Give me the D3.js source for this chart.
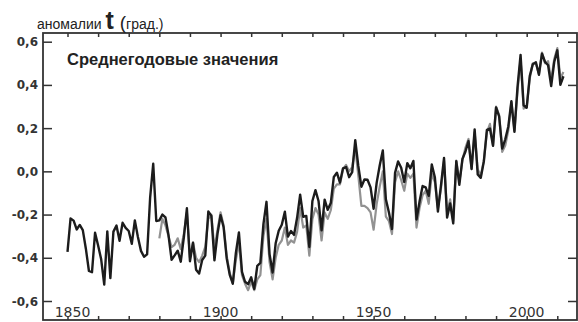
<!DOCTYPE html>
<html>
<head>
<meta charset="utf-8">
<script src="https://cdn.jsdelivr.net/npm/d3@7"></script>
<style>
  html, body { margin: 0; padding: 0; background: #fff; }
  svg { display: block; }
</style>
</head>
<body>
<svg id="chart" width="578" height="322"></svg>
<script>
// Annual mean global temperature anomalies, °C
const startYear = 1850;
const blackValues = [
  -0.373, -0.218, -0.228, -0.269, -0.248, -0.272, -0.358, -0.461, -0.467, -0.284,
  -0.343, -0.407, -0.524, -0.278, -0.494, -0.279, -0.251, -0.321, -0.238, -0.262,
  -0.276, -0.335, -0.227, -0.304, -0.368, -0.395, -0.384, -0.120, 0.035, -0.230,
  -0.227, -0.200, -0.213, -0.296, -0.409, -0.389, -0.367, -0.418, -0.307, -0.171,
  -0.416, -0.330, -0.455, -0.473, -0.410, -0.390, -0.186, -0.206, -0.412, -0.289,
  -0.203, -0.259, -0.402, -0.479, -0.520, -0.377, -0.283, -0.465, -0.511, -0.522,
  -0.490, -0.544, -0.437, -0.424, -0.244, -0.141, -0.383, -0.468, -0.333, -0.275,
  -0.247, -0.187, -0.302, -0.276, -0.294, -0.215, -0.108, -0.210, -0.206, -0.350,
  -0.137, -0.087, -0.137, -0.273, -0.131, -0.178, -0.147, -0.026, -0.006, -0.052,
  0.014, 0.020, -0.027, -0.004, 0.144, 0.025, -0.071, -0.038, -0.039, -0.074,
  -0.173, -0.052, 0.028, 0.097, -0.129, -0.190, -0.267, -0.007, 0.046, 0.017,
  -0.049, 0.038, 0.014, 0.048, -0.223, -0.140, -0.068, -0.074, -0.113, 0.032,
  -0.027, -0.186, -0.065, 0.062, -0.214, -0.149, -0.241, 0.047, -0.062, 0.057,
  0.092, 0.140, 0.011, 0.194, -0.014, -0.030, 0.045, 0.192, 0.198, 0.118,
  0.296, 0.254, 0.105, 0.148, 0.208, 0.325, 0.183, 0.390, 0.539, 0.306,
  0.294, 0.441, 0.496, 0.505, 0.447, 0.545, 0.506, 0.491, 0.395, 0.506,
  0.560, 0.400, 0.440
];

const grayStartYear = 1880;
const grayValues = [
  -0.31, -0.22, -0.25, -0.30, -0.35, -0.34, -0.31, -0.36, -0.29, -0.19,
  -0.40, -0.33, -0.40, -0.42, -0.39, -0.35, -0.22, -0.20, -0.36, -0.27,
  -0.19, -0.25, -0.39, -0.47, -0.52, -0.41, -0.33, -0.48, -0.52, -0.55,
  -0.51, -0.55, -0.50, -0.48, -0.30, -0.22, -0.42, -0.50, -0.40, -0.34,
  -0.32, -0.26, -0.34, -0.32, -0.33, -0.28, -0.17, -0.26, -0.25, -0.39,
  -0.22, -0.17, -0.20, -0.32, -0.19, -0.22, -0.18, -0.08, -0.06, -0.06,
  0.01, 0.03, 0.00, 0.02, 0.11, -0.02, -0.16, -0.16, -0.17, -0.19,
  -0.27, -0.15, -0.07, 0.00, -0.21, -0.23, -0.29, -0.05, 0.00, -0.04,
  -0.09, -0.01, -0.03, -0.01, -0.26, -0.17, -0.11, -0.09, -0.15, -0.01,
  -0.05, -0.17, -0.08, 0.05, -0.19, -0.13, -0.23, 0.05, -0.05, 0.05,
  0.11, 0.15, 0.01, 0.18, 0.01, -0.02, 0.05, 0.18, 0.22, 0.12,
  0.30, 0.26, 0.09, 0.12, 0.19, 0.32, 0.19, 0.37, 0.52, 0.29,
  0.30, 0.43, 0.50, 0.50, 0.45, 0.55, 0.50, 0.51, 0.42, 0.52,
  0.57, 0.43, 0.46
];

const yTicks = [-0.6, -0.4, -0.2, 0.0, 0.2, 0.4, 0.6];
const xLabelYears = [1850, 1900, 1950, 2000];
const xTickYears = d3.range(1850, 2011, 10);

const blackSeries = blackValues.map((v, i) => ({ year: startYear + i, value: v }));
const graySeries = grayValues.map((v, i) => ({ year: grayStartYear + i, value: v }));

const svg = d3.select("#chart");

// plot frame
const frame = { left: 43, top: 33, right: 577, bottom: 320 };

const x = d3.scaleLinear().domain([1850, 2010]).range([67.5, 557.3]);
const y = d3.scaleLinear().domain([-0.6, 0.6]).range([301, 41.7]);

const fmt = v => d3.format(".1f")(v).replace(".", ",").replace("\u2212", "-");

// left axis: ticks point inward
svg.append("g")
  .attr("transform", `translate(${frame.left},0)`)
  .call(d3.axisRight(y).tickValues(yTicks).tickSize(9).tickFormat(""))
  .call(g => g.select(".domain").remove())
  .call(g => g.selectAll("line").attr("stroke", "#333").attr("stroke-width", 1.5));

// right axis: ticks point inward
svg.append("g")
  .attr("transform", `translate(${frame.right},0)`)
  .call(d3.axisLeft(y).tickValues(yTicks).tickSize(9).tickFormat(""))
  .call(g => g.select(".domain").remove())
  .call(g => g.selectAll("line").attr("stroke", "#333").attr("stroke-width", 1.5));

// bottom and top ticks every 10 years
svg.append("g")
  .attr("transform", `translate(0,${frame.bottom})`)
  .call(d3.axisTop(x).tickValues(xTickYears).tickSize(4).tickFormat(""))
  .call(g => g.select(".domain").remove())
  .call(g => g.selectAll("line").attr("stroke", "#333").attr("stroke-width", 1.5));

svg.append("g")
  .attr("transform", `translate(0,${frame.top})`)
  .call(d3.axisBottom(x).tickValues(xTickYears).tickSize(4).tickFormat(""))
  .call(g => g.select(".domain").remove())
  .call(g => g.selectAll("line").attr("stroke", "#333").attr("stroke-width", 1.5));

// y tick labels
svg.append("g")
  .selectAll("text")
  .data(yTicks)
  .join("text")
  .attr("x", 38)
  .attr("y", d => y(d) + 4.5)
  .attr("text-anchor", "end")
  .attr("font-family", "DejaVu Sans, sans-serif")
  .attr("font-weight", "bold")
  .attr("font-size", 12)
  .attr("fill", "#333")
  .text(d => fmt(d));

// year labels inside the frame
svg.append("g")
  .selectAll("text")
  .data(xLabelYears)
  .join("text")
  .attr("x", (d, i) => x(d) + (i === 0 ? 5 : 0))
  .attr("y", 317)
  .attr("text-anchor", "middle")
  .attr("font-family", "DejaVu Sans, sans-serif")
  .attr("font-size", 14)
  .attr("fill", "#333")
  .text(d => d);

// data lines
const line = d3.line().x(d => x(d.year)).y(d => y(d.value));

svg.append("path")
  .datum(graySeries)
  .attr("fill", "none")
  .attr("stroke", "#929292")
  .attr("stroke-width", 2.2)
  .attr("stroke-linejoin", "round")
  .attr("d", line);

svg.append("path")
  .datum(blackSeries)
  .attr("fill", "none")
  .attr("stroke", "#1c1c1c")
  .attr("stroke-width", 2.4)
  .attr("stroke-linejoin", "round")
  .attr("d", line);

// frame
svg.append("rect")
  .attr("x", frame.left)
  .attr("y", frame.top)
  .attr("width", frame.right - frame.left)
  .attr("height", frame.bottom - frame.top)
  .attr("fill", "none")
  .attr("stroke", "#333")
  .attr("stroke-width", 1.8);

// axis title
const title = svg.append("text")
  .attr("x", 37)
  .attr("y", 29)
  .attr("font-family", "Liberation Sans, Arial, sans-serif")
  .attr("fill", "#222");
title.append("tspan").attr("font-size", 14).text("аномалии ");
title.append("tspan").attr("font-size", 25).attr("font-weight", "bold").text("t");
title.append("tspan").attr("font-size", 19).attr("dx", 6).text("(");
title.append("tspan").attr("font-size", 14).text("град.)");

// panel label
svg.append("text")
  .attr("x", 67)
  .attr("y", 65)
  .attr("font-family", "Liberation Sans, Arial, sans-serif")
  .attr("font-weight", "bold")
  .attr("font-size", 16.5)
  .attr("fill", "#222")
  .text("Среднегодовые значения");
</script>
</body>
</html>
